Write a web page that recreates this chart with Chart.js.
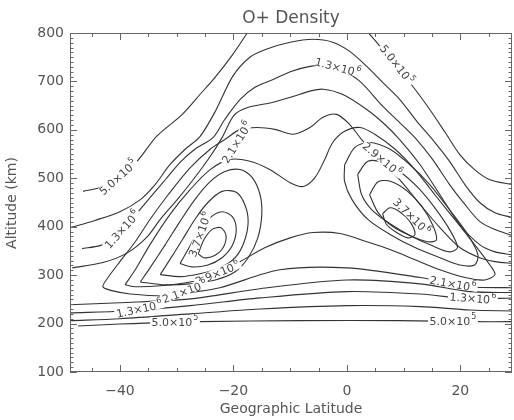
<!DOCTYPE html>
<html><head><meta charset="utf-8">
<script src="https://cdn.jsdelivr.net/npm/chart.js@4.4.1/dist/chart.umd.min.js"></script>
<style>html,body{margin:0;padding:0;background:#fff}#wrap{width:514px;height:420px}</style>
</head><body><div id="wrap"><canvas id="c" width="514" height="420"></canvas></div>
<script>
// ---- contour lines: [latitude, altitude km] ----
const c05a = [[-46.5,473],[-43.5,481],[-40.3,502],[-37.0,535],[-33.5,587],[-29.0,632],[-25.9,673],[-23.2,709],[-20.1,756],[-17.1,808]];
const c05b = [[3.2,808],[5.8,773],[8.8,729],[11.6,690],[14.6,642],[17.3,595],[19.9,549],[22.5,518],[25.2,497],[29.1,487]];
const c05c = [[-47.4,195],[-40,199],[-25.9,204],[-8.3,206],[9.3,206],[21.7,204],[29.4,204]];
const c09a = [[-48.8,398],[-44.4,413],[-40,431],[-36.4,456],[-33.8,487],[-31.2,528],[-28.5,560],[-25.9,586],[-23.2,638],[-20.1,711],[-17.1,750],[-14.1,767],[-10.0,781],[-6.0,787],[-2.5,781],[0.5,762],[3.5,731],[6.3,698],[9.3,663],[12.3,618],[15.1,580],[18.1,535],[20.8,487],[23.4,450],[26.1,429],[29.1,419]];
const c09b = [[-48.8,206],[-40,210],[-27.6,220],[-15.3,230],[0,237],[12.9,235],[21.7,228],[29.4,226]];
const c13a = [[-46.7,355],[-43.5,361],[-41.7,373],[-39.1,404],[-36.8,431],[-34.7,460],[-32.0,497],[-29.4,533],[-26.8,560],[-23.6,584],[-21.5,622],[-18.8,663],[-16.2,688],[-13.0,704],[-9.7,721],[-6.5,731],[-3.9,733],[-1.2,725],[2.3,700],[6.3,649],[9.3,615],[12.3,580],[15.1,539],[18.1,487],[20.8,446],[23.4,411],[26.1,394],[29.1,382]];
const c13b = [[-48.8,222],[-39.1,226],[-27.6,237],[-15.3,253],[0,266],[12.9,261],[21.7,251],[29.4,253]];
const c17a = [[-48.4,315],[-43.0,326],[-38.7,346],[-35.2,379],[-32.9,415],[-29.9,456],[-27.1,497],[-24.1,545],[-22.0,584],[-19.9,630],[-17.5,646],[-13.0,657],[-9.5,669],[-6.5,680],[-4.2,684],[-0.7,673],[3.5,642],[6.7,611],[9.3,580],[12.9,528],[16.4,466],[19.9,404],[23.4,363],[26.1,348],[29.1,342]];
const c17b = [[-48.8,239],[-40,243],[-27.6,251],[-15.3,272],[0,290],[12.9,282],[21.7,266],[29.4,264]];
const c21 = [[29.4,274],[21.7,276],[12.9,295],[0,315],[-11.8,311],[-22.4,274],[-27.6,264],[-31.7,257],[-38.2,261],[-41.4,268],[-43.0,276],[-42.1,295],[-40,328],[-37.3,369],[-34.7,415],[-31.5,466],[-27.6,522],[-24.1,560],[-21.5,580],[-18.8,601],[-15.8,605],[-12.7,601],[-9.5,591],[-6.5,605],[-4.2,626],[-1.8,632],[0.5,611],[2.6,580],[5.8,539],[9.3,497],[12.9,446],[16.4,398],[19.9,357],[23.4,336],[26.1,328],[29.4,324]];
const c25 = [[-39.1,280],[-37.3,311],[-34.7,363],[-31.2,425],[-27.6,477],[-24.1,518],[-20.6,539],[-17.1,535],[-13.6,518],[-10.0,491],[-7.7,483],[-5.6,502],[-3.9,539],[-2.5,574],[-0.4,597],[2.3,605],[4.9,591],[8.5,560],[12.0,518],[15.5,466],[19.0,415],[22.5,363],[25.2,321],[26.1,301],[24.3,290],[20.8,295],[16.4,311],[12.0,332],[7.6,353],[3.5,369],[-1.2,386],[-6.0,388],[-10.0,377],[-14.4,357],[-18.8,328],[-23.2,301],[-27.6,286],[-32.9,278],[-37.3,276],[-39.1,280]];
const c29L = [[-36.4,286],[-34.7,315],[-32.0,363],[-29.4,411],[-26.8,456],[-24.1,493],[-21.5,514],[-18.8,518],[-16.7,502],[-15.3,466],[-15.0,425],[-15.7,377],[-17.4,336],[-19.7,307],[-23.2,290],[-27.6,282],[-32.0,280],[-36.4,286]];
const c33L = [[-32.9,301],[-31.2,332],[-29.0,373],[-26.8,415],[-24.5,450],[-22.0,473],[-19.5,471],[-18.0,446],[-17.4,411],[-18.1,369],[-19.7,336],[-22.4,315],[-25.9,303],[-29.4,297],[-32.9,301]];
const c37L = [[-29.4,324],[-28.0,353],[-26.2,390],[-24.1,419],[-22.0,431],[-20.2,421],[-19.5,394],[-20.2,361],[-22.0,336],[-24.5,321],[-27.3,317],[-29.4,324]];
const c41L = [[-26.2,344],[-25.2,373],[-23.8,394],[-22.2,398],[-21.3,382],[-21.8,357],[-23.4,340],[-25.2,336],[-26.2,344]];
const c29R = [[-0.4,528],[1.4,564],[4.0,574],[7.6,560],[11.1,528],[14.6,487],[18.1,435],[21.3,384],[23.1,342],[22.5,321],[19.9,321],[16.4,336],[12.0,357],[7.6,384],[3.7,415],[0.9,456],[-0.4,493],[-0.4,528]];
const c33R = [[1.9,508],[3.7,535],[6.3,533],[9.3,514],[12.5,481],[15.5,439],[18.1,394],[19.5,357],[18.1,348],[15.0,361],[11.1,382],[7.6,406],[4.4,435],[2.6,466],[1.9,508]];
const c37R = [[4.0,466],[5.5,493],[7.9,493],[10.7,473],[13.2,442],[15.1,404],[15.8,373],[14.3,369],[11.1,382],[7.9,402],[5.5,429],[4.0,466]];
const c41R = [[6.3,427],[7.6,439],[9.3,431],[11.1,411],[12.0,384],[10.7,377],[8.5,390],[6.9,406],[6.3,427]];

// ---- contour labels ----
const labelMant = ['5.0×10','5.0×10','1.3×10','1.3×10','2.1×10','2.9×10','3.7×10','3.7×10','2.9×10','2.1×10','1.3×10','5.0×10','2.1×10','1.3×10','5.0×10'];
const labelExp  = ['5','5','6','6','6','6','6','6','6','6','6','5','6','6','5'];
const labelLat  = [-40.3, 8.8, -1.6, -39.6, -19.4, 6.2, 11.4, -25.9, -22.8, -28.6, -36.6, -30.3, 18.7, 22.2, 18.7];
const labelAlt  = [502, 735, 729, 394, 574, 539, 421, 384, 304, 266, 230, 203, 282, 252, 206];
const labelAngle= [-42, 52, 15, -48, -58, 40, 45, -70, -22, -20, -12, 0, 10, 4, 0];

// ---- axes ----
const xTickVals = [-40, -20, 0, 20];
const yTickVals = [100, 200, 300, 400, 500, 600, 700, 800];

const contours = [c05a,c05b,c05c,c09a,c09b,c13a,c13b,c17a,c17b,c21,c25,c29L,c33L,c37L,c41L,c29R,c33R,c37R,c41R];

const LINE = '#333';
const TXT = '#555';
const FONT = '"DejaVu Sans", sans-serif';

const decor = {
  id: 'decor',
  afterDatasetsDraw(chart) {
    const ctx = chart.ctx, xs = chart.scales.x, ys = chart.scales.y;
    const a = chart.chartArea;
    ctx.save();
    ctx.beginPath(); ctx.rect(a.left, a.top, a.right - a.left, a.bottom - a.top); ctx.clip();
    for (let i = 0; i < labelMant.length; i++) {
      const px = xs.getPixelForValue(labelLat[i]), py = ys.getPixelForValue(labelAlt[i]);
      ctx.save(); ctx.translate(px, py); ctx.rotate(labelAngle[i] * Math.PI / 180);
      ctx.font = '11px ' + FONT; const w1 = ctx.measureText(labelMant[i]).width;
      ctx.font = '8px ' + FONT; const w2 = ctx.measureText(labelExp[i]).width;
      const w = w1 + w2 + 1;
      ctx.fillStyle = '#fff'; ctx.fillRect(-w / 2 - 1.5, -5, w + 3, 9);
      ctx.fillStyle = '#444'; ctx.textBaseline = 'middle'; ctx.textAlign = 'left';
      ctx.font = '11px ' + FONT; ctx.fillText(labelMant[i], -w / 2, 1);
      ctx.font = '8px ' + FONT; ctx.fillText(labelExp[i], -w / 2 + w1 + 1, -4);
      ctx.restore();
    }
    ctx.restore();
  },
  afterDraw(chart) {
    const ctx = chart.ctx, xs = chart.scales.x, ys = chart.scales.y;
    const a = chart.chartArea;
    ctx.save();
    ctx.strokeStyle = '#666'; ctx.lineWidth = 1;
    ctx.strokeRect(a.left + 0.5, a.top + 0.5, a.right - a.left - 1, a.bottom - a.top - 1);
    ctx.beginPath();
    for (let v = -45; v <= 25; v += 5) {
      const p = Math.round(xs.getPixelForValue(v)) + 0.5;
      const L = (v % 20 === 0) ? 7 : 4;
      ctx.moveTo(p, a.bottom); ctx.lineTo(p, a.bottom - L);
      ctx.moveTo(p, a.top); ctx.lineTo(p, a.top + L);
    }
    for (let v = 100; v <= 800; v += 10) {
      const p = Math.round(ys.getPixelForValue(v)) + 0.5;
      const L = (v % 100 === 0) ? 7 : 3.5;
      ctx.moveTo(a.left, p); ctx.lineTo(a.left + L, p);
      ctx.moveTo(a.right, p); ctx.lineTo(a.right - L, p);
    }
    ctx.stroke();
    ctx.fillStyle = TXT; ctx.textAlign = 'center'; ctx.textBaseline = 'middle';
    const cx = (a.left + a.right) / 2;
    ctx.font = '17px ' + FONT; ctx.fillText('O+ Density', cx, 19);
    ctx.font = '14px ' + FONT; ctx.fillText('Geographic Latitude', cx, 409);
    ctx.translate(12, 203); ctx.rotate(-Math.PI / 2);
    ctx.fillText('Altitude (km)', 0, 0);
    ctx.restore();
  }
};

new Chart(document.getElementById('c'), {
  type: 'scatter',
  data: {
    datasets: contours.map(c => ({
      data: c.map(p => ({x: p[0], y: p[1]})),
      showLine: true, pointRadius: 0, borderColor: LINE, borderWidth: 1.1,
      tension: 0.3, fill: false
    }))
  },
  options: {
    responsive: false, animation: false, devicePixelRatio: 1,
    layout: {padding: {top: 33, right: 2, left: 0, bottom: 0}},
    plugins: {legend: {display: false}, tooltip: {enabled: false}, title: {display: false}},
    scales: {
      x: {
        type: 'linear', min: -48.8, max: 29.1,
        grid: {display: false, drawTicks: false}, border: {display: false},
        ticks: {color: TXT, font: {family: FONT, size: 14}, padding: 11, maxRotation: 0, autoSkip: false,
          callback: v => (v < 0 ? '\u2212' + Math.abs(v) : String(v))},
        afterBuildTicks: s => { s.ticks = xTickVals.map(v => ({value: v})); },
        afterFit: s => { s.height = 48; }
      },
      y: {
        type: 'linear', min: 100, max: 800,
        grid: {display: false, drawTicks: false}, border: {display: false},
        ticks: {color: TXT, font: {family: FONT, size: 14}, padding: 6, autoSkip: false},
        afterBuildTicks: s => { s.ticks = yTickVals.map(v => ({value: v})); },
        afterFit: s => { s.width = 70; }
      }
    }
  },
  plugins: [decor]
});
</script></body></html>
